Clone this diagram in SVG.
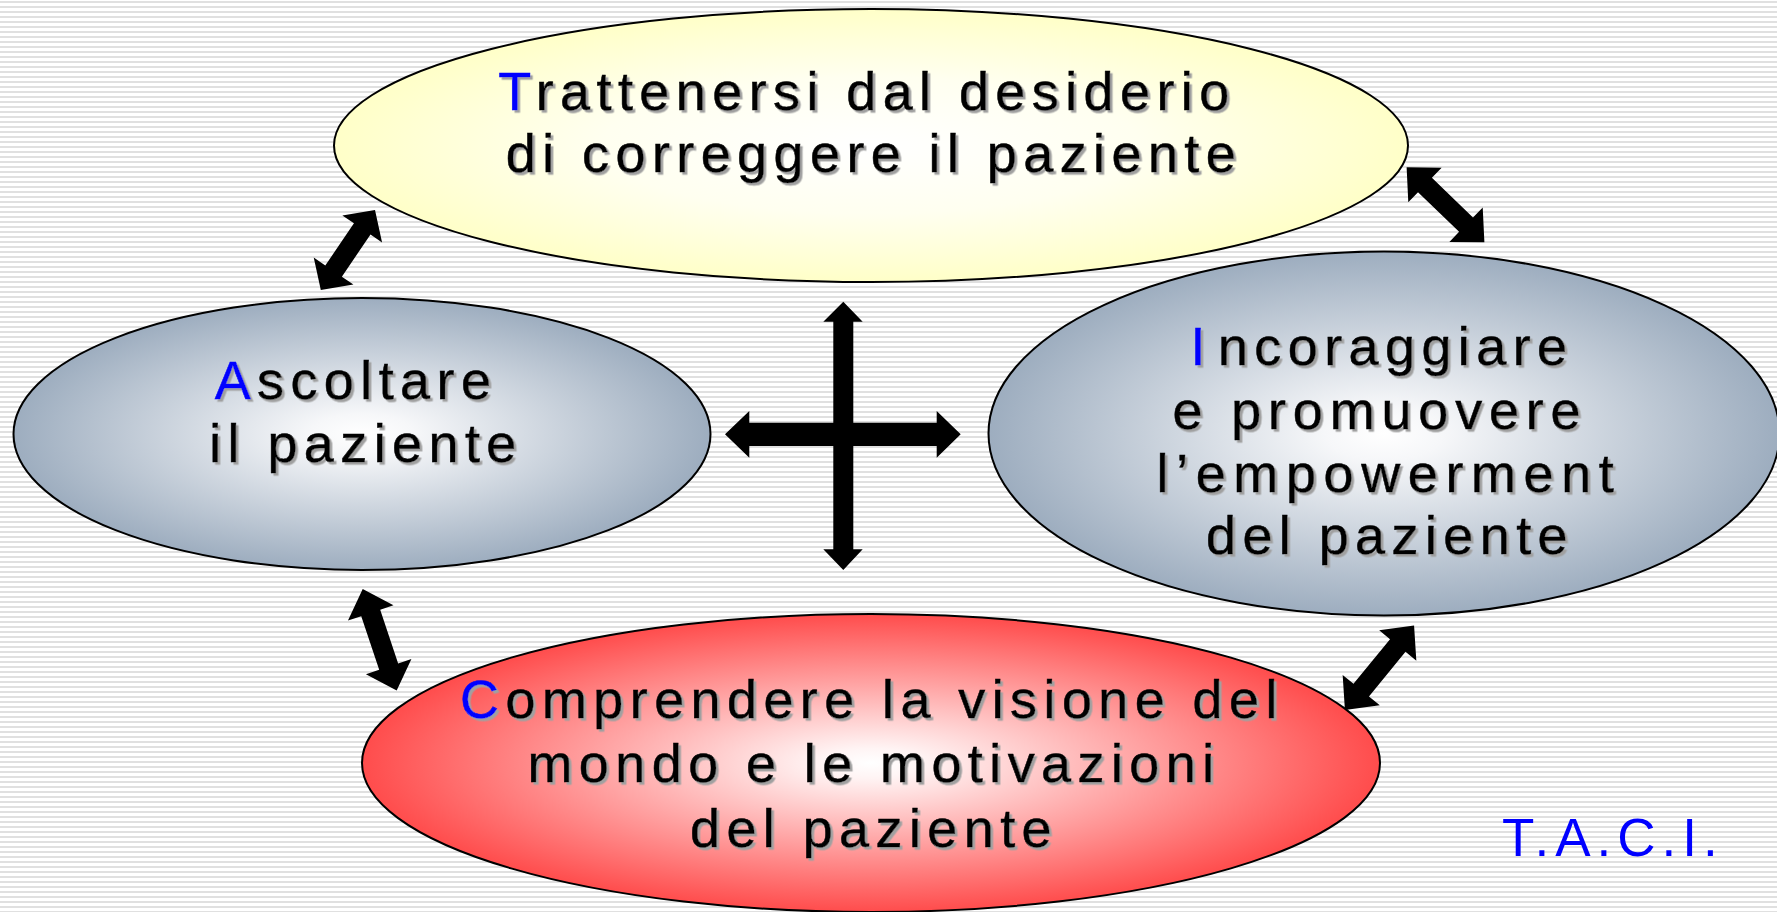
<svg xmlns="http://www.w3.org/2000/svg" width="1777" height="912" viewBox="0 0 1777 912">
<defs>
<pattern id="bg" x="0" y="0" width="10" height="5" patternUnits="userSpaceOnUse">
<rect width="10" height="5" fill="#ffffff"/>
<rect y="1" width="10" height="2" fill="#e0e0e0"/>
</pattern>
<radialGradient id="gY" cx="50%" cy="50%" r="50%">
<stop offset="0" stop-color="#ffffff"/>
<stop offset="0.5" stop-color="#fffff0"/>
<stop offset="1" stop-color="#ffffc8"/>
</radialGradient>
<radialGradient id="gG" cx="50%" cy="50%" r="50%">
<stop offset="0" stop-color="#ffffff"/>
<stop offset="0.15" stop-color="#f6f7f9"/>
<stop offset="1" stop-color="#9dadbf"/>
</radialGradient>
<radialGradient id="gR" cx="50%" cy="50%" r="50%">
<stop offset="0" stop-color="#ffffff"/>
<stop offset="0.1" stop-color="#fff4f4"/>
<stop offset="1" stop-color="#ff4c4c"/>
</radialGradient>
<filter id="sh" x="-5%" y="-20%" width="110%" height="140%">
<feDropShadow dx="2.5" dy="2.5" stdDeviation="0.4" flood-color="#a0a0a0" flood-opacity="1"/>
</filter>
<polygon id="dbl" points="-53,0 -28,-24 -28,-10 28,-10 28,-24 53,0 28,24 28,10 -28,10 -28,24"/>
</defs>
<style>
.ell{stroke:#000;stroke-width:2}
.lbl{font-family:"Liberation Sans",Arial,sans-serif;font-size:54px;letter-spacing:6.4px;fill:#000;stroke:#000;stroke-width:0.5px;text-anchor:middle;filter:url(#sh)}
.ini{fill:#0000ff;stroke:#0000ff}
.arr{fill:#000}
.taci{font-family:"Liberation Sans",Arial,sans-serif;font-size:53px;letter-spacing:6px;fill:#0000ff}
</style>
<rect width="1777" height="912" fill="url(#bg)"/>

<g id="connectors">
<use href="#dbl" class="arr" transform="translate(347.9,250) rotate(-55.8) scale(0.91,1)"/>
<use href="#dbl" class="arr" transform="translate(1445.5,204.8) rotate(44) scale(1.02,1)"/>
<use href="#dbl" class="arr" transform="translate(379.7,639.8) rotate(71.5) scale(1.01,1)"/>
<use href="#dbl" class="arr" transform="translate(1379.5,667.8) rotate(-50.7) scale(1.03,1)"/>
<polygon class="arr" points="843.3,301.7 862.7,321.7 853.3,321.7 853.3,549.3 862.7,549.3 843.3,570 823.3,549.3 833.3,549.3 833.3,321.7 823.3,321.7"/>
<polygon class="arr" points="725,434.3 749.3,411 749.3,422.7 936.7,422.7 936.7,411 960.7,434.3 936.7,457.7 936.7,446 749.3,446 749.3,457.7"/>
</g>

<g id="node-T">
<ellipse class="ell" cx="871" cy="145.5" rx="537" ry="136.5" fill="url(#gY)"/>
<text class="lbl" x="867" y="110"><tspan class="ini">T</tspan>rattenersi dal desiderio</text>
<text class="lbl" x="874" y="172">di correggere il paziente</text>
</g>

<g id="node-A">
<ellipse class="ell" cx="362" cy="434" rx="348.5" ry="136" fill="url(#gG)"/>
<text class="lbl" x="356" y="399"><tspan class="ini">A</tspan>scoltare</text>
<text class="lbl" x="366" y="462">il paziente</text>
</g>

<g id="node-I">
<ellipse class="ell" cx="1384" cy="433.5" rx="395.5" ry="182" fill="url(#gG)"/>
<text class="lbl" x="1382" y="365"><tspan class="ini">I</tspan><tspan dx="6">ncoraggiare</tspan></text>
<text class="lbl" x="1380" y="429" style="letter-spacing:6.8px">e promuovere</text>
<text class="lbl" x="1389" y="492" style="letter-spacing:7.6px">l’empowerment</text>
<text class="lbl" x="1390" y="554">del paziente</text>
</g>

<g id="node-C">
<ellipse class="ell" cx="871" cy="763" rx="509" ry="149" fill="url(#gR)"/>
<text class="lbl" x="872" y="718"><tspan class="ini">C</tspan>omprendere la visione del</text>
<text class="lbl" x="874" y="782">mondo e le motivazioni</text>
<text class="lbl" x="874" y="847">del paziente</text>
</g>

<text class="taci" x="1502" y="856">T.A.C.I.</text>
</svg>
